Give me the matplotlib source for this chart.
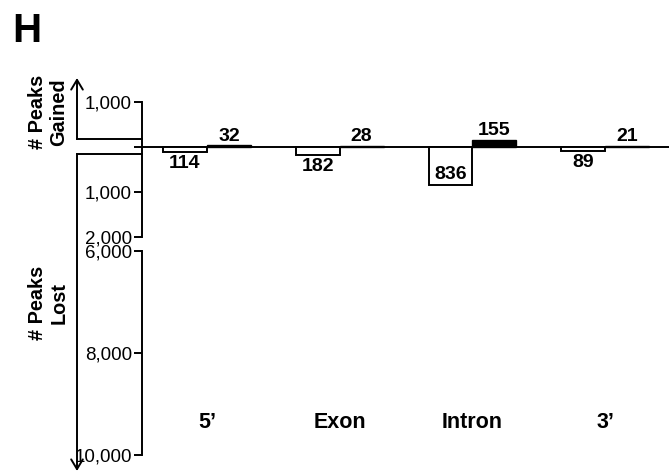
import matplotlib
matplotlib.use("Agg")
import matplotlib.pyplot as plt
from matplotlib.transforms import blended_transform_factory
from matplotlib.lines import Line2D
from matplotlib.patches import FancyArrowPatch

plt.rcParams['font.family'] = ['Liberation Sans', 'DejaVu Sans']

# Peak changes per genomic region
categories = ["5\u2019", "Exon", "Intron", "3\u2019"]
peaks_gained = [32, 28, 155, 21]
peaks_lost = [114, 182, 836, 89]

upper_ticks = [1000, 0, -1000, -2000]
lower_ticks = [6000, 8000, 10000]

W, H = 669, 472
fig = plt.figure(figsize=(W / 100, H / 100), dpi=100)


def fx(x):
    return x / W


def fy(y):
    return 1 - y / H


left = fx(141.5)
ax = fig.add_axes([left, fy(237), 1 - left, fy(101.7) - fy(237)])
axb = fig.add_axes([left, fy(455), 1 - left, fy(251) - fy(455)], sharex=ax)

x = list(range(len(categories)))
bw = 0.331
lw = 1.4

# baseline
ax.axhline(0, color='black', lw=lw, zorder=1)

# lost (white) bars to the left of each centre, gained (black) to the right
ax.bar(x, [-v for v in peaks_lost], width=-bw, align='edge',
       color='white', edgecolor='black', linewidth=lw, zorder=2)
ax.bar(x, peaks_gained, width=bw, align='edge',
       color='black', edgecolor='black', linewidth=lw * 0.7, zorder=2)

vfs = 14
for xi, g, l in zip(x, peaks_gained, peaks_lost):
    ax.annotate(f"{g}", (xi + bw / 2, g), xytext=(0, 0.5), textcoords='offset points',
                ha='center', va='bottom', fontsize=vfs, fontweight='bold')
    if l > 500:
        ax.annotate(f"{l}", (xi - bw / 2, -l), xytext=(0, 1), textcoords='offset points',
                    ha='center', va='bottom', fontsize=vfs, fontweight='bold')
    else:
        ax.annotate(f"{l}", (xi - bw / 2, -l), xytext=(0, -2), textcoords='offset points',
                    ha='center', va='top', fontsize=vfs, fontweight='bold')

ax.set_xlim(-0.4925, 3.48)
ax.set_ylim(-2000, 1000)
ax.set_yticks(upper_ticks)
ax.set_yticklabels([f"{abs(t):,}" if t != 0 else "" for t in upper_ticks])

axb.set_ylim(10000, 6000)
axb.set_yticks(lower_ticks)
axb.set_yticklabels([f"{t:,}" for t in lower_ticks])

for a in (ax, axb):
    for s in ('top', 'right', 'bottom'):
        a.spines[s].set_visible(False)
    a.spines['left'].set_linewidth(lw)
    a.tick_params(axis='y', direction='out', length=6, width=lw, pad=1, labelsize=13.5)
    a.tick_params(axis='x', bottom=False, labelbottom=False)
    a.patch.set_alpha(0)

trans = blended_transform_factory(axb.transData, axb.transAxes)
for xi, c in zip(x, categories):
    axb.text(xi, (455 - 422) / (455 - 251), c, transform=trans,
             ha='center', va='center', fontsize=15.5, fontweight='bold')

# direction guides on the left
arrow_kw = dict(arrowstyle='->,head_length=0.5,head_width=0.3', lw=lw, mutation_scale=14,
                color='black', transform=fig.transFigure, shrinkA=0, shrinkB=0)
fig.add_artist(FancyArrowPatch((fx(77), fy(139)), (fx(77), fy(78)), **arrow_kw))
fig.add_artist(Line2D([fx(77), fx(141.5)], [fy(139), fy(139)], lw=lw, color='black',
                      transform=fig.transFigure))
fig.add_artist(FancyArrowPatch((fx(77), fy(154)), (fx(77), fy(471)), **arrow_kw))
fig.add_artist(Line2D([fx(77), fx(141.5)], [fy(154), fy(154)], lw=lw, color='black',
                      transform=fig.transFigure))

fig.text(fx(48), fy(112), "# Peaks\nGained", rotation=90, ha='center', va='center',
         multialignment='center', fontsize=14.3, fontweight='bold', linespacing=1.15)
fig.text(fx(48), fy(303), "# Peaks\nLost", rotation=90, ha='center', va='center',
         multialignment='center', fontsize=14.3, fontweight='bold', linespacing=1.15)

fig.text(fx(12), fy(31), "H", ha='left', va='center', fontsize=29, fontweight='bold')

fig.savefig("out.png", dpi=100)
